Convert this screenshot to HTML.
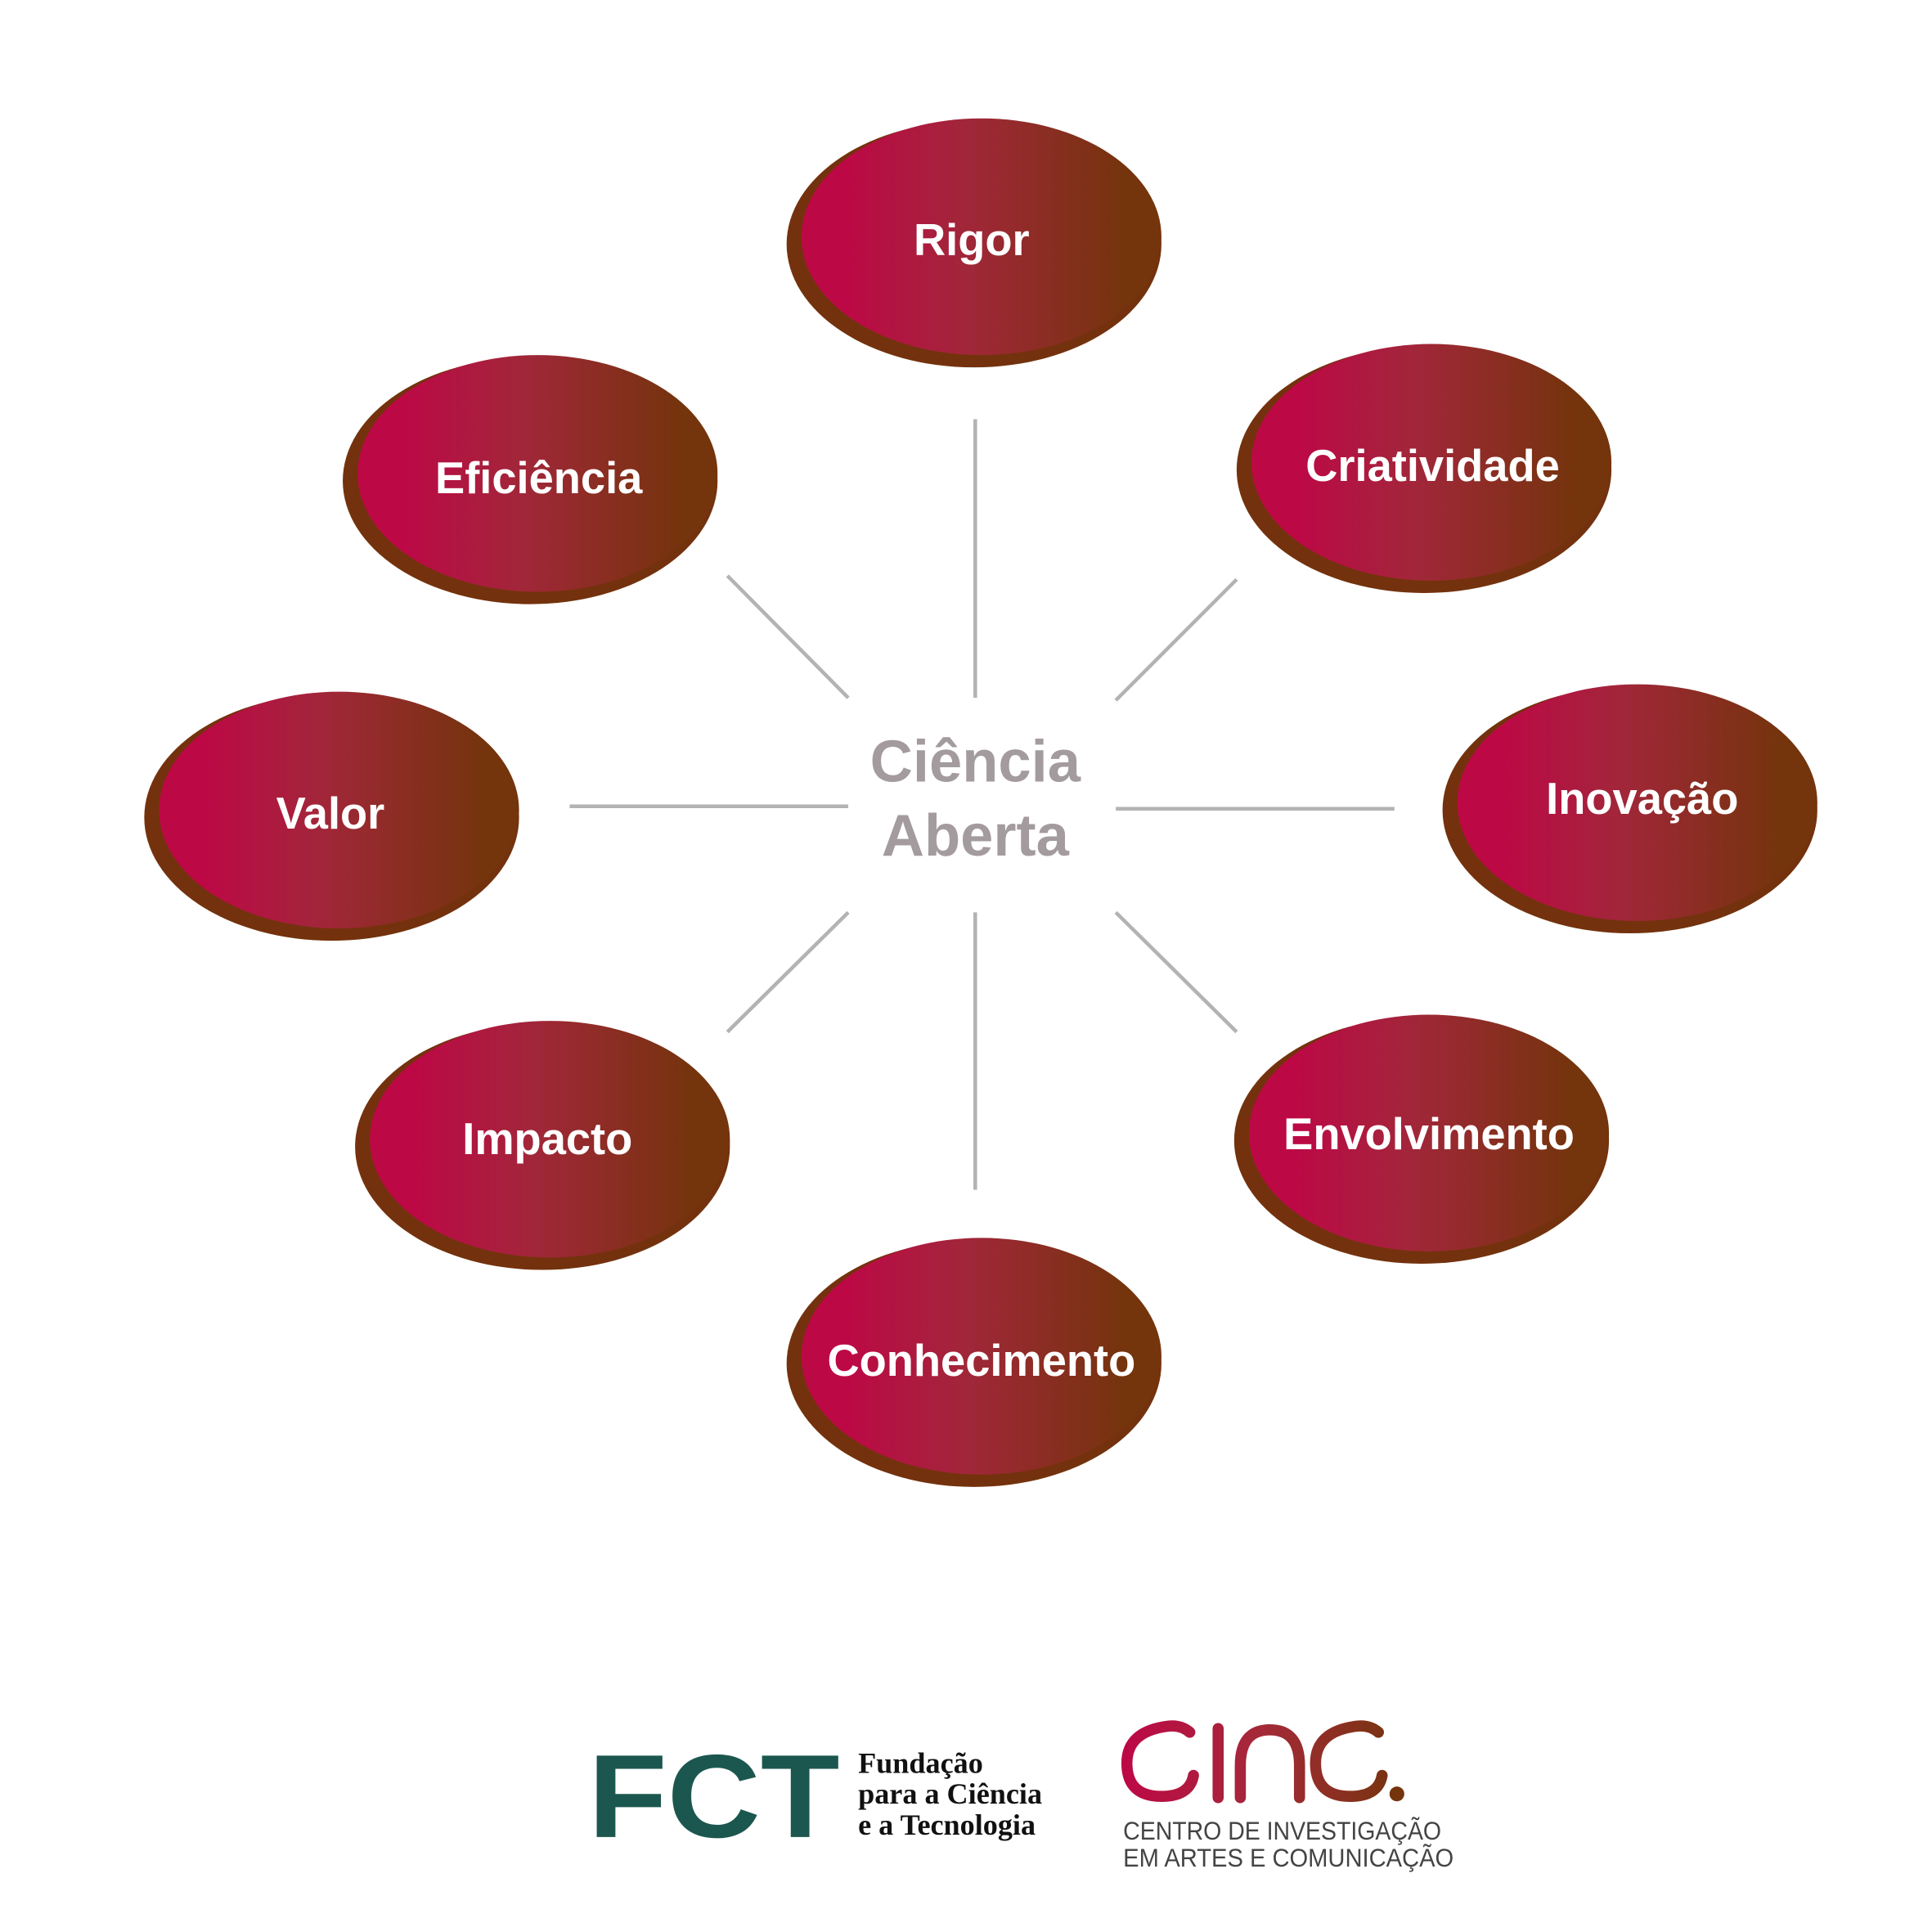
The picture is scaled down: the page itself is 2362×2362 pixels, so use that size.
<!DOCTYPE html>
<html><head><meta charset="utf-8"><style>html,body{margin:0;padding:0;background:#fff}svg{display:block}</style></head>
<body>
<svg width="2362" height="2362" viewBox="0 0 1567 1567" xmlns="http://www.w3.org/2000/svg">
<defs>
<linearGradient id="g" x1="0" y1="0" x2="1" y2="0">
<stop offset="0.12" stop-color="#bd0846"/>
<stop offset="0.45" stop-color="#a2263a"/>
<stop offset="0.9" stop-color="#74340c"/>
</linearGradient>
<linearGradient id="lg" gradientUnits="userSpaceOnUse" x1="910" y1="0" x2="1140" y2="0">
<stop offset="0" stop-color="#bd0846"/>
<stop offset="0.5" stop-color="#a32a38"/>
<stop offset="1" stop-color="#74340c"/>
</linearGradient>
<g id="node">
<ellipse cx="-6" cy="6" rx="152" ry="100" fill="#73320d"/>
<ellipse cx="0" cy="0" rx="146" ry="96" fill="url(#g)"/>
</g>
</defs>
<g stroke="#b3b3b3" stroke-width="3">
<line x1="791" y1="340" x2="791" y2="566"/>
<line x1="791" y1="740" x2="791" y2="965"/>
<line x1="462" y1="654" x2="688" y2="654"/>
<line x1="905" y1="656" x2="1131" y2="656"/>
<line x1="590" y1="467" x2="688" y2="566"/>
<line x1="1003" y1="470" x2="905" y2="568"/>
<line x1="688" y1="740" x2="590" y2="837"/>
<line x1="905" y1="740" x2="1003" y2="837"/>
</g>
<use href="#node" x="796" y="192"/>
<use href="#node" x="1161" y="375"/>
<use href="#node" x="436" y="384"/>
<use href="#node" x="1328" y="651"/>
<use href="#node" x="275" y="657"/>
<use href="#node" x="446" y="924"/>
<use href="#node" x="1159" y="919"/>
<use href="#node" x="796" y="1100"/>
<g font-family="'Liberation Sans', 'DejaVu Sans', sans-serif" font-size="36" font-weight="bold" fill="#fff" text-anchor="middle">
<text x="788" y="207">Rigor</text>
<text x="1162" y="390">Criatividade</text>
<text x="437" y="400">Eficiência</text>
<text x="1332" y="660">Inovação</text>
<text x="268" y="672">Valor</text>
<text x="444" y="936">Impacto</text>
<text x="1159" y="932">Envolvimento</text>
<text x="796" y="1116">Conhecimento</text>
</g>
<g font-family="'Liberation Sans', 'DejaVu Sans', sans-serif" font-size="48" font-weight="bold" fill="#a39b9e" text-anchor="middle">
<text x="791" y="634">Ciência</text>
<text x="791" y="694">Aberta</text>
</g>
<text x="477" y="1490" font-family="'Liberation Sans', sans-serif" font-weight="bold" font-size="96" fill="#1b574f" textLength="204" lengthAdjust="spacingAndGlyphs">FCT</text>
<g font-family="'Liberation Serif', serif" font-size="24" font-weight="bold" fill="#111">
<text x="696" y="1438">Fundação</text>
<text x="696" y="1463">para a Ciência</text>
<text x="696" y="1488">e a Tecnologia</text>
</g>
<g fill="none" stroke="url(#lg)" stroke-width="9" stroke-linecap="round">
<path d="M965 1405 Q958 1399 948 1400 Q914 1404 914 1430 Q914 1457 942 1457 Q965 1457 968 1440"/>
<line x1="988" y1="1402" x2="988" y2="1458"/>
<path d="M1006 1458 L1006 1432 Q1006 1403 1030 1403 Q1054 1403 1054 1432 L1054 1458"/>
<path d="M1118 1405 Q1111 1399 1101 1400 Q1067 1404 1067 1430 Q1067 1457 1095 1457 Q1118 1457 1121 1440"/>
</g>
<circle cx="1133" cy="1455" r="6" fill="#74340c"/>
<g font-family="'Liberation Sans', sans-serif" font-size="21" fill="#444">
<text x="911" y="1492" textLength="258" lengthAdjust="spacingAndGlyphs">CENTRO DE INVESTIGAÇÃO</text>
<text x="911" y="1514" textLength="268" lengthAdjust="spacingAndGlyphs">EM ARTES E COMUNICAÇÃO</text>
</g>
</svg>
</body></html>
